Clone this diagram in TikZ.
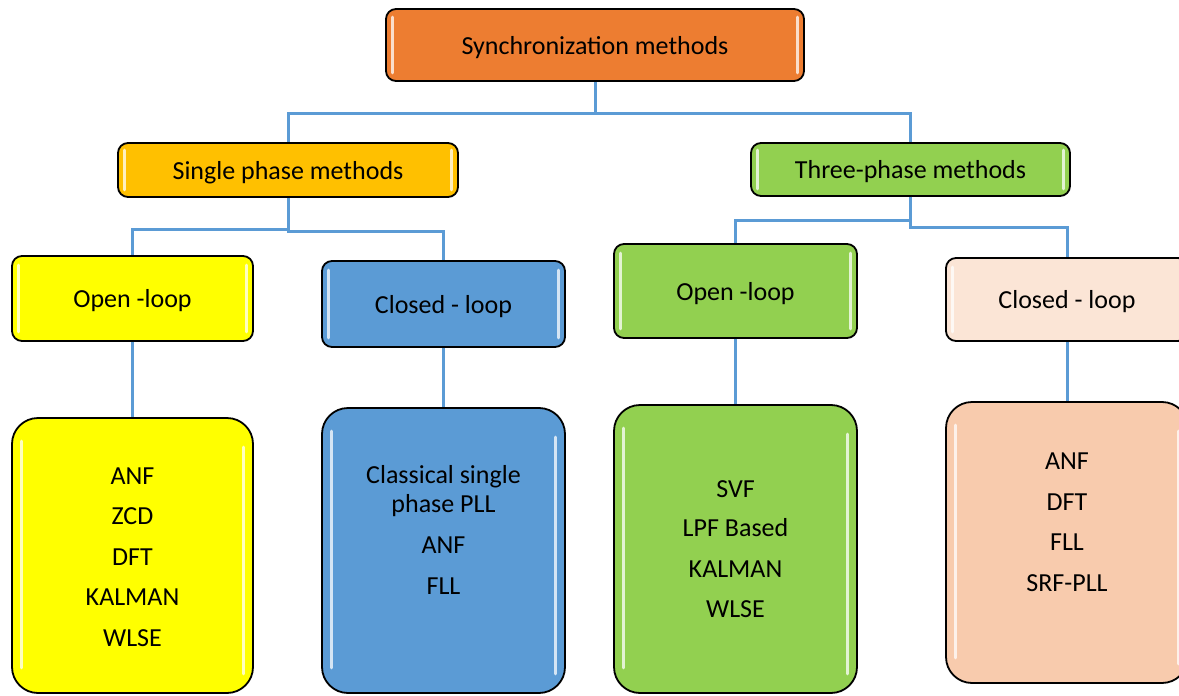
\documentclass[tikz,border=0pt]{standalone}
\usepackage{fontspec}
\setmainfont{Carlito}
\definecolor{cOrange}{HTML}{ED7D31}
\definecolor{cGold}{HTML}{FFC000}
\definecolor{cGreen}{HTML}{92D050}
\definecolor{cYellow}{HTML}{FFFF00}
\definecolor{cBlue}{HTML}{5B9BD5}
\definecolor{cPeachLight}{HTML}{FBE5D6}
\definecolor{cPeach}{HTML}{F8CBAD}
\definecolor{cLink}{HTML}{5B9BD5}
\begin{document}
\begin{tikzpicture}[x=1pt,y=-1pt,
  box/.style={draw=black, line width=1.8pt, rounded corners=10pt, inner sep=0pt,
    text height=19.5pt, text depth=1.5pt, font=\fontsize{26}{31}\selectfont},
  bigbox/.style={box, rounded corners=26pt},
  items/.style={align=center, inner sep=0pt, font=\fontsize{26}{29}\selectfont},
  gloss/.style={white, line width=3pt, opacity=0.75, line cap=round},
  conn/.style={cLink, line width=3pt}]
\useasboundingbox (0,0) rectangle (1179,696);
\fill[white] (0,0) rectangle (1179,696);

% header and the two method families
\node[box, fill=cOrange, minimum width=418pt, minimum height=72pt] (top) at (595,45) {Synchronization methods};
\node[box, fill=cGold, minimum width=340pt, minimum height=54pt] (sp) at (288,170) {Single phase methods};
\node[box, fill=cGreen, minimum width=319pt, minimum height=53pt] (tp) at (910.5,169.5) {Three-phase methods};

% loop types
\node[box, fill=cYellow, minimum width=241pt, minimum height=85pt] (ol1) at (132.5,298.5) {Open -loop};
\node[box, fill=cBlue, minimum width=243pt, minimum height=86pt] (cl1) at (443.5,304) {Closed - loop};
\node[box, fill=cGreen, minimum width=243pt, minimum height=94pt] (ol2) at (735.5,291) {Open -loop};
\node[box, fill=cPeachLight, minimum width=242pt, minimum height=83pt] (cl2) at (1067,299.5) {Closed - loop};

% technique lists
\node[bigbox, fill=cYellow, minimum width=241pt, minimum height=275pt] (b1) at (132.5,555.5) {};
\node[bigbox, fill=cBlue, minimum width=243pt, minimum height=285pt] (b2) at (443.5,550.5) {};
\node[bigbox, fill=cGreen, minimum width=243pt, minimum height=288pt] (b3) at (735.5,549) {};
\node[bigbox, fill=cPeach, minimum width=242pt, minimum height=281pt] (b4) at (1067,542.5) {};

\node[items] (t1) at (132.5,557) {ANF\\[11.5pt]ZCD\\[11.5pt]DFT\\[11.5pt]KALMAN\\[11.5pt]WLSE};
\node[items] (t2) at (443.5,530) {Classical single\\phase PLL\\[12pt]ANF\\[11.5pt]FLL};
\node[items] (t3) at (735.5,549) {SVF\\[10.5pt]LPF Based\\[11.5pt]KALMAN\\[11.5pt]WLSE};
\node[items] (t4) at (1067,522) {ANF\\[11.5pt]DFT\\[11.5pt]FLL\\[11.5pt]SRF-PLL};

% glossy edge highlights
\foreach \n/\d in {top/9,sp/8,tp/8,ol1/10,cl1/10,ol2/10,cl2/10} {
  \draw[gloss] ([xshift=7pt,yshift=-\d pt]\n.north west) -- ([xshift=7pt,yshift=\d pt]\n.south west);
  \draw[gloss] ([xshift=-7pt,yshift=-\d pt]\n.north east) -- ([xshift=-7pt,yshift=\d pt]\n.south east);
}
\foreach \n in {b1,b2,b3,b4} {
  \draw[gloss] ([xshift=10pt,yshift=-24pt]\n.north west) -- ([xshift=10pt,yshift=26pt]\n.south west);
  \draw[gloss] ([xshift=-10pt,yshift=-30pt]\n.north east) -- ([xshift=-10pt,yshift=20pt]\n.south east);
}

% connectors
\draw[conn] (top.south) -- ++(0,32) -| (sp.north);
\draw[conn] (top.south) -- ++(0,32) -| (tp.north);
\draw[conn] (sp.south) -- ++(0,32) -| (ol1.north);
\draw[conn] (sp.south) -- ++(0,34) -| (cl1.north);
\draw[conn] (tp.south) -- ++(0,24) -| (ol2.north);
\draw[conn] (tp.south) -- ++(0,31) -| (cl2.north);
\draw[conn] (ol1.south) -- (b1.north);
\draw[conn] (cl1.south) -- (b2.north);
\draw[conn] (ol2.south) -- (b3.north);
\draw[conn] (cl2.south) -- (b4.north);
\end{tikzpicture}
\end{document}
